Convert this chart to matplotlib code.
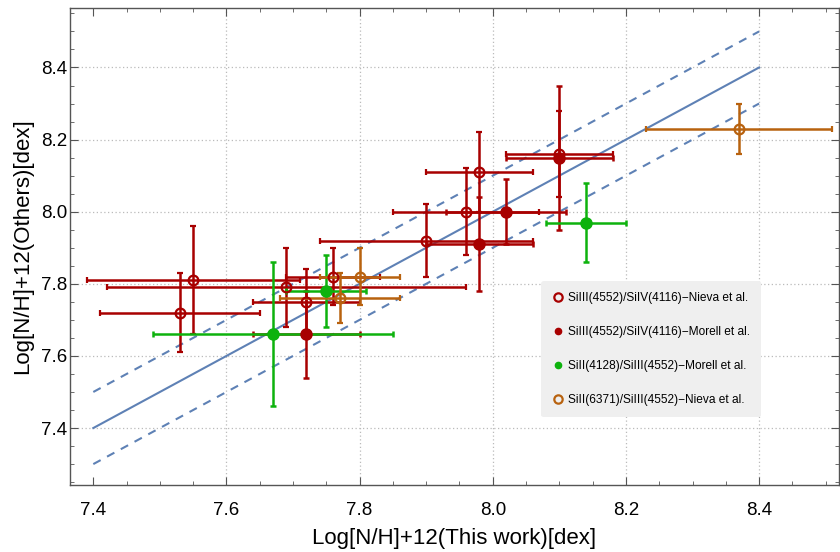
import numpy as np
import matplotlib
matplotlib.use("Agg")
import matplotlib.pyplot as plt
from matplotlib.lines import Line2D
from matplotlib.ticker import MultipleLocator, FormatStrFormatter

# SiIII/SiIV ionisation balance, Nieva et al.
nieva34_x = [7.53, 7.55, 7.69, 7.72, 7.76, 7.90, 7.96, 7.98, 8.10]
nieva34_y = [7.72, 7.81, 7.79, 7.75, 7.82, 7.92, 8.00, 8.11, 8.16]
nieva34_xerr = [0.12, 0.16, 0.27, 0.08, 0.07, 0.16, 0.11, 0.08, 0.08]
nieva34_yerr = [0.11, 0.15, 0.11, 0.09, 0.08, 0.10, 0.12, 0.11, 0.12]

# SiIII/SiIV, Morell et al.
morell34_x = [7.72, 7.98, 8.02, 8.10]
morell34_y = [7.66, 7.91, 8.00, 8.15]
morell34_xerr = [0.08, 0.08, 0.09, 0.08]
morell34_yerr = [0.12, 0.13, 0.09, 0.20]

# SiII(4128)/SiIII, Morell et al.
morell23_x = [7.67, 7.75, 8.14]
morell23_y = [7.66, 7.78, 7.97]
morell23_xerr = [0.18, 0.06, 0.06]
morell23_yerr = [0.20, 0.10, 0.11]

# SiII(6371)/SiIII, Nieva et al.
nieva23_x = [7.77, 7.80, 8.37]
nieva23_y = [7.76, 7.82, 8.23]
nieva23_xerr = [0.09, 0.06, 0.14]
nieva23_yerr = [0.07, 0.08, 0.07]

labels = ["SiIII(4552)/SiIV(4116)\u2212Nieva et al.",
          "SiIII(4552)/SiIV(4116)\u2212Morell et al.",
          "SiII(4128)/SiIII(4552)\u2212Morell et al.",
          "SiII(6371)/SiIII(4552)\u2212Nieva et al."]

ref_x = np.array([7.4, 8.4])
offset = 0.1

red = "#A80000"
green = "#0DB20D"
orange = "#B8620F"
blue = "#5E81B5"

plt.rcParams['font.family'] = ['Liberation Sans', 'DejaVu Sans']

fig = plt.figure(figsize=(8.4, 5.52), dpi=100)
ax = fig.add_axes([70 / 840, 67 / 552, 769 / 840, 477 / 552])

# 1:1 line and the +-0.1 dex band
ax.plot(ref_x, ref_x, color=blue, lw=1.5, zorder=2)
ax.plot(ref_x, ref_x + offset, color=blue, lw=1.5, ls=(0, (4, 3.5)), zorder=2)
ax.plot(ref_x, ref_x - offset, color=blue, lw=1.5, ls=(0, (4, 3.5)), zorder=2)

eb = dict(ls='none', elinewidth=1.8, capsize=2.4, capthick=1.8, zorder=3)
ax.errorbar(nieva34_x, nieva34_y, xerr=nieva34_xerr, yerr=nieva34_yerr,
            color=red, marker='o', ms=7, mfc='none', mew=1.6, **eb)
ax.errorbar(morell34_x, morell34_y, xerr=morell34_xerr, yerr=morell34_yerr,
            color=red, marker='o', ms=8, **eb)
ax.errorbar(morell23_x, morell23_y, xerr=morell23_xerr, yerr=morell23_yerr,
            color=green, marker='o', ms=8, **eb)
ax.errorbar(nieva23_x, nieva23_y, xerr=nieva23_xerr, yerr=nieva23_yerr,
            color=orange, marker='o', ms=7, mfc='none', mew=1.6, **eb)

ax.set_xlim(7.365, 8.52)
ax.set_ylim(7.242, 8.565)
ax.xaxis.set_major_locator(MultipleLocator(0.2))
ax.xaxis.set_minor_locator(MultipleLocator(0.05))
ax.yaxis.set_major_locator(MultipleLocator(0.2))
ax.yaxis.set_minor_locator(MultipleLocator(0.05))
ax.xaxis.set_major_formatter(FormatStrFormatter('%.1f'))
ax.yaxis.set_major_formatter(FormatStrFormatter('%.1f'))

for v in [7.6, 7.8, 8.0, 8.2, 8.4]:
    ax.axvline(v, color='#BBBBBB', lw=0.9, ls=(0, (1, 2)), zorder=1)
for v in [7.4, 7.6, 7.8, 8.0, 8.2, 8.4]:
    ax.axhline(v, color='#BBBBBB', lw=0.9, ls=(0, (1, 2)), zorder=1)

ax.tick_params(which='both', direction='in', top=True, right=True,
               color='#555555', labelsize=13.5, labelcolor='black')
ax.tick_params(which='major', length=6, width=0.8)
ax.tick_params(which='minor', length=3, width=0.6)
ax.tick_params(axis='x', which='major', pad=12)
ax.tick_params(axis='y', which='major', pad=2)
for sp in ax.spines.values():
    sp.set_color('#555555')
    sp.set_linewidth(1.0)

ax.set_xlabel("Log[N/H]+12(This work)[dex]", fontsize=16, labelpad=7)
ax.set_ylabel("Log[N/H]+12(Others)[dex]", fontsize=16, labelpad=6)

handles = [
    Line2D([], [], ls='none', marker='o', ms=6, mfc='none', mec=red, mew=1.6),
    Line2D([], [], ls='none', marker='o', ms=4.5, color=red),
    Line2D([], [], ls='none', marker='o', ms=4.5, color=green),
    Line2D([], [], ls='none', marker='o', ms=6, mfc='none', mec=orange, mew=1.6),
]
leg = ax.legend(handles, labels, loc='center', bbox_to_anchor=(0.7555, 0.2845),
                fontsize=8.6, frameon=True, facecolor='#EFEFEF', edgecolor='none',
                framealpha=1, labelspacing=1.85, handletextpad=0.35,
                handlelength=1.0, borderpad=0.9, fancybox=True)
leg.set_zorder(5)

fig.savefig("out.png", dpi=100)
